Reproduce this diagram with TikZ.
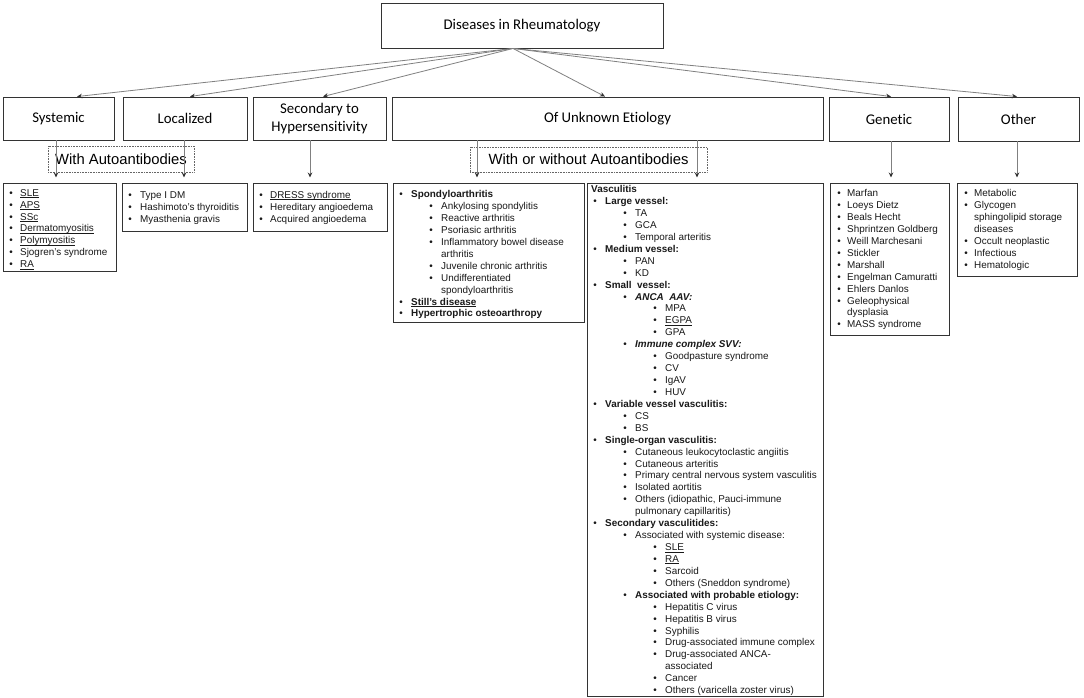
\documentclass[tikz,border=0pt]{standalone}
\usepackage{fontspec}
\setmainfont{Liberation Sans}
\newfontfamily\calfont[Ligatures=NoCommon]{Carlito}
\usetikzlibrary{arrows.meta}
\newcommand\B[3]{\strut\hspace*{\dimexpr#1pt-1.75pt\relax}\makebox[\dimexpr#2pt-#1pt+1.75pt\relax][l]{\textbullet}#3}
\newcommand\C[2]{\strut\hspace*{#1pt}#2}
\newcommand\ul[1]{\setbox0\hbox{#1}\rlap{\rule[-1.7pt]{\wd0}{0.7pt}}\box0}
\tikzset{
  lvl/.style={draw=black!80, line width=0.9pt, inner sep=0pt, align=center,
    font=\calfont\fontsize{14.8}{18}\selectfont},
  lstbox/.style={draw=black!80, line width=1pt, inner sep=0pt},
  txt/.style={anchor=north west, inner sep=0pt, align=left, text=black!90,
    font=\fontsize{9.9}{11.93}\selectfont},
  fan/.style={draw=black!50, line width=0.8pt, -{Stealth[length=5pt,width=4.5pt,black!80]}},
  dn/.style={draw=black!50, line width=0.8pt, shorten >=5pt, -{Stealth[length=5pt,width=4.5pt,black!80]}},
  dbox/.style={draw=black!60, densely dotted, line width=0.6pt, inner sep=0pt,
    font=\fontsize{14.8}{18}\selectfont}
}
\begin{document}
\begin{tikzpicture}[x=1pt,y=-1pt]
\useasboundingbox[fill=white] (0,0) rectangle (1084,698);
% root
\node[lvl, minimum width=282pt, minimum height=45pt] (root) at (522,25.5) {Diseases in Rheumatology};
% level 2
\node[lvl, minimum width=111pt, minimum height=43pt] (sys) at (58.5,118.5) {Systemic};
\node[lvl, minimum width=124pt, minimum height=43pt] (loc) at (185,118.5) {Localized};
\node[lvl, minimum width=133pt, minimum height=43pt] (sec) at (319.5,118.5) {Secondary to\\Hypersensitivity};
\node[lvl, minimum width=431pt, minimum height=43pt] (unk) at (607.5,118.5) {Of Unknown Etiology};
\node[lvl, minimum width=120pt, minimum height=44pt] (gen) at (889,119) {Genetic};
\node[lvl, minimum width=121pt, minimum height=44pt] (oth) at (1018.5,119) {Other};
% fan connectors
\draw[fan] ([xshift=-9pt]root.south) -- ([xshift=18.5pt]sys.north);
\draw[fan] ([xshift=-9pt]root.south) -- ([xshift=5pt]loc.north);
\draw[fan] ([xshift=-9pt]root.south) -- ([xshift=3.5pt]sec.north);
\draw[fan] ([xshift=-9pt]root.south) -- ([xshift=-2.5pt]unk.north);
\draw[fan] ([xshift=-9pt]root.south) -- ([xshift=2pt]gen.north);
\draw[fan] ([xshift=-9pt]root.south) -- ([xshift=-1.5pt]oth.north);
% list boxes
\node[lstbox, minimum width=113pt, minimum height=88pt] (sysL) at (59.5,227) {};
\node[lstbox, minimum width=125pt, minimum height=48pt] (locL) at (184.5,207) {};
\node[lstbox, minimum width=134pt, minimum height=48pt] (secL) at (320,207) {};
\node[lstbox, minimum width=191pt, minimum height=139pt] (spoL) at (488.5,252.5) {};
\node[lstbox, minimum width=236pt, minimum height=513pt] (vasL) at (705,439.5) {};
\node[lstbox, minimum width=119pt, minimum height=152pt] (genL) at (889.5,259) {};
\node[lstbox, minimum width=120pt, minimum height=93pt] (othL) at (1017,229.5) {};
% dashed labels
\node[dbox, minimum width=146pt, minimum height=26pt] (wa) at (121,159) {With Autoantibodies};
\node[dbox, minimum width=237pt, minimum height=25pt] (wo) at (588.5,159.5) {With or without Autoantibodies};
% down connectors
\draw[dn] ([xshift=-2.5pt]sys.south) -- ([xshift=-2.5pt]sys.south |- sysL.north);
\draw[dn] ([xshift=-1pt]loc.south) -- ([xshift=-1pt]loc.south |- locL.north);
\draw[dn] ([xshift=-9.5pt]sec.south) -- ([xshift=-9.5pt]sec.south |- secL.north);
\draw[dn] ([xshift=-130.5pt]unk.south) -- ([xshift=-130.5pt]unk.south |- spoL.north);
\draw[dn] ([xshift=89.5pt]unk.south) -- ([xshift=89.5pt]unk.south |- vasL.north);
\draw[dn] ([xshift=2pt]gen.south) -- ([xshift=2pt]gen.south |- genL.north);
\draw[dn] ([xshift=-1.5pt]oth.south) -- ([xshift=-1.5pt]oth.south |- othL.north);
% list texts
\node[txt] (sysT) at (3,187.6) {%
\B{8}{17}{\ul{SLE}}\\
\B{8}{17}{\ul{APS}}\\
\B{8}{17}{\ul{SSc}}\\
\B{8}{17}{\ul{Dermatomyositis}}\\
\B{8}{17}{\ul{Polymyositis}}\\
\B{8}{17}{Sjogren's syndrome}\\
\B{8}{17}{\ul{RA}}};
\node[txt] (locT) at (122,190.1) {%
\B{8}{18}{Type I DM}\\
\B{8}{18}{Hashimoto's thyroiditis}\\
\B{8}{18}{Myasthenia gravis}};
\node[txt] (secT) at (253,189.6) {%
\B{8}{17}{\ul{DRESS syndrome}}\\
\B{8}{17}{Hereditary angioedema}\\
\B{8}{17}{Acquired angioedema}};
\node[txt] (spoT) at (393,189.1) {%
\B{8}{18}{\textbf{Spondyloarthritis}}\\
\B{38}{48}{Ankylosing spondylitis}\\
\B{38}{48}{Reactive arthritis}\\
\B{38}{48}{Psoriasic arthritis}\\
\B{38}{48}{Inflammatory bowel disease}\\
\C{48}{arthritis}\\
\B{38}{48}{Juvenile chronic arthritis}\\
\B{38}{48}{Undifferentiated}\\
\C{48}{spondyloarthritis}\\
\B{8}{18}{\textbf{\ul{Still's disease}}}\\
\B{8}{18}{\textbf{Hypertrophic osteoarthropy}}};
\node[txt] (vasT) at (587,184.1) {%
\C{4}{\textbf{Vasculitis}}\\
\B{8}{18}{\textbf{Large vessel:}}\\
\B{38}{48}{TA}\\
\B{38}{48}{GCA}\\
\B{38}{48}{Temporal arteritis}\\
\B{8}{18}{\textbf{Medium vessel:}}\\
\B{38}{48}{PAN}\\
\B{38}{48}{KD}\\
\B{8}{18}{\textbf{Small\ \ vessel:}}\\
\B{38}{48}{\textbf{\textit{ANCA\ \ AAV:}}}\\
\B{68}{78}{MPA}\\
\B{68}{78}{\ul{EGPA}}\\
\B{68}{78}{GPA}\\
\B{38}{48}{\textbf{\textit{Immune complex SVV:}}}\\
\B{68}{78}{Goodpasture syndrome}\\
\B{68}{78}{CV}\\
\B{68}{78}{IgAV}\\
\B{68}{78}{HUV}\\
\B{8}{18}{\textbf{Variable vessel vasculitis:}}\\
\B{38}{48}{CS}\\
\B{38}{48}{BS}\\
\B{8}{18}{\textbf{Single-organ vasculitis:}}\\
\B{38}{48}{Cutaneous leukocytoclastic angiitis}\\
\B{38}{48}{Cutaneous arteritis}\\
\B{38}{48}{Primary central nervous system vasculitis}\\
\B{38}{48}{Isolated aortitis}\\
\B{38}{48}{Others (idiopathic, Pauci-immune}\\
\C{48}{pulmonary capillaritis)}\\
\B{8}{18}{\textbf{Secondary vasculitides:}}\\
\B{38}{48}{Associated with systemic disease:}\\
\B{68}{78}{\ul{SLE}}\\
\B{68}{78}{\ul{RA}}\\
\B{68}{78}{Sarcoid}\\
\B{68}{78}{Others (Sneddon syndrome)}\\
\B{38}{48}{\textbf{Associated with probable etiology:}}\\
\B{68}{78}{Hepatitis C virus}\\
\B{68}{78}{Hepatitis B virus}\\
\B{68}{78}{Syphilis}\\
\B{68}{78}{Drug-associated immune complex}\\
\B{68}{78}{Drug-associated ANCA-}\\
\C{78}{associated}\\
\B{68}{78}{Cancer}\\
\B{68}{78}{Others (varicella zoster virus)}};
\node[txt] (genT) at (830,188.1) {%
\B{9}{17}{Marfan}\\
\B{9}{17}{Loeys Dietz}\\
\B{9}{17}{Beals Hecht}\\
\B{9}{17}{Shprintzen Goldberg}\\
\B{9}{17}{Weill Marchesani}\\
\B{9}{17}{Stickler}\\
\B{9}{17}{Marshall}\\
\B{9}{17}{Engelman Camuratti}\\
\B{9}{17}{Ehlers Danlos}\\
\B{9}{17}{Geleophysical}\\
\C{17}{dysplasia}\\
\B{9}{17}{MASS syndrome}};
\node[txt] (othT) at (957,188.1) {%
\B{9}{17}{Metabolic}\\
\B{9}{17}{Glycogen}\\
\C{17}{sphingolipid storage}\\
\C{17}{diseases}\\
\B{9}{17}{Occult neoplastic}\\
\B{9}{17}{Infectious}\\
\B{9}{17}{Hematologic}};
\end{tikzpicture}
\end{document}
